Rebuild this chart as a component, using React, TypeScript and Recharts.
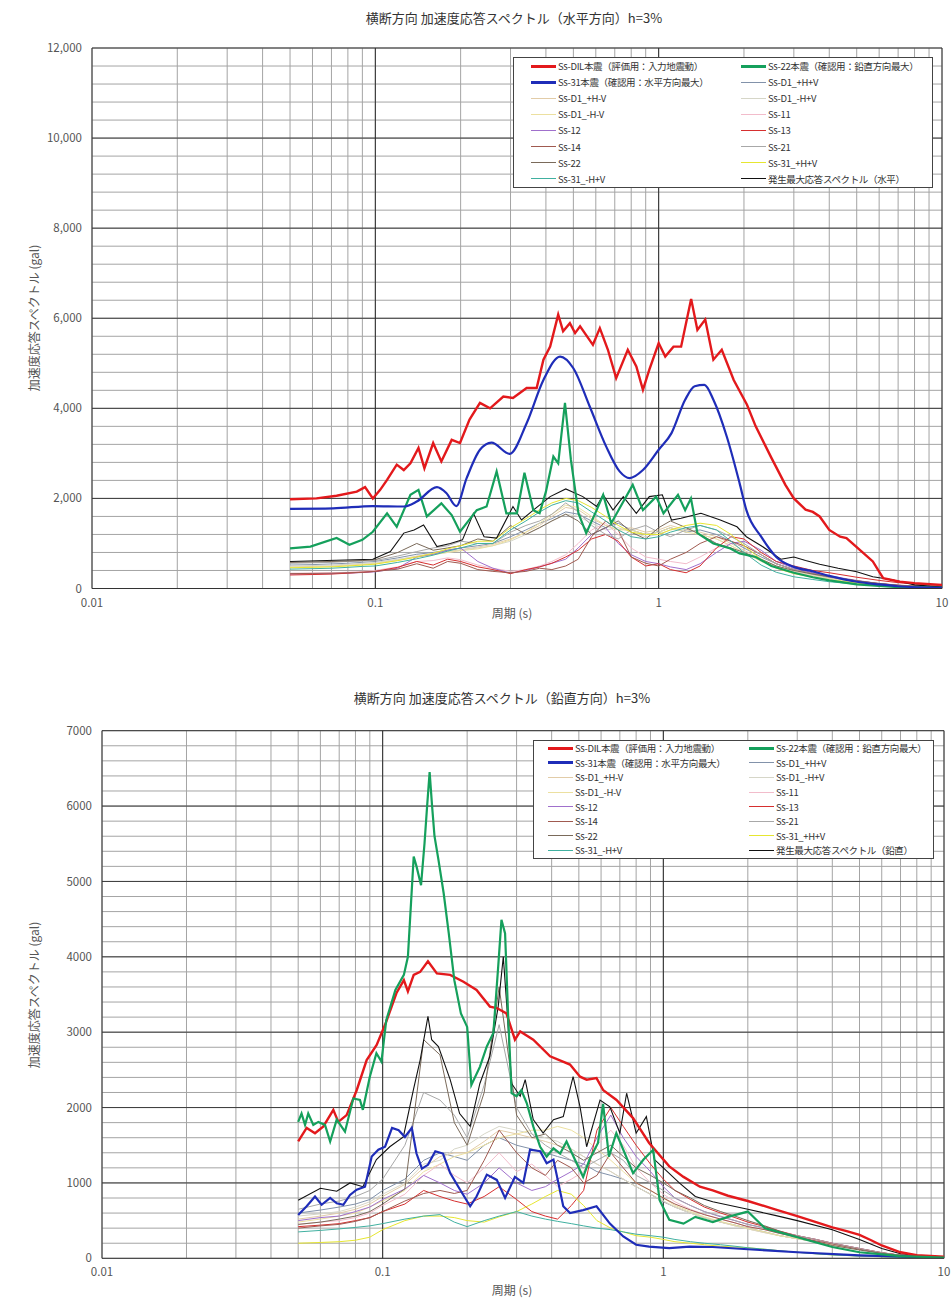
import React from 'react';
import { LineChart, Line, XAxis, YAxis, CartesianGrid, ReferenceLine, Legend } from 'recharts';

const FONT = "'Noto Sans CJK JP', 'Noto Sans', sans-serif";

// log grid of the period axis (s)
const X_TICKS = [
  0.01, 0.02, 0.03, 0.04, 0.05, 0.06, 0.07, 0.08, 0.09,
  0.1, 0.2, 0.3, 0.4, 0.5, 0.6, 0.7, 0.8, 0.9,
  1, 2, 3, 4, 5, 6, 7, 8, 9, 10,
];
const X_LABELS = [0.01, 0.1, 1, 10];
const X_MAJOR = [0.1, 1];

const Y1_TICKS = [
  0, 400, 800, 1200, 1600, 2000, 2400, 2800, 3200, 3600, 4000, 4400, 4800, 5200, 5600, 6000,
  6400, 6800, 7200, 7600, 8000, 8400, 8800, 9200, 9600, 10000, 10400, 10800, 11200, 11600, 12000,
];
const Y1_LABELS = [0, 2000, 4000, 6000, 8000, 10000, 12000];
const Y2_TICKS = [
  0, 200, 400, 600, 800, 1000, 1200, 1400, 1600, 1800, 2000, 2200, 2400, 2600, 2800, 3000,
  3200, 3400, 3600, 3800, 4000, 4200, 4400, 4600, 4800, 5000, 5200, 5400, 5600, 5800, 6000,
  6200, 6400, 6600, 6800, 7000,
];
const Y2_LABELS = [0, 1000, 2000, 3000, 4000, 5000, 6000, 7000];

// coarse period grid used by the thin wave lines
const PERIOD_GRID = [
  0.05, 0.06, 0.07, 0.08, 0.09, 0.1, 0.12, 0.14, 0.16, 0.18, 0.2, 0.23, 0.26, 0.3, 0.34, 0.38,
  0.42, 0.47, 0.52, 0.58, 0.65, 0.72, 0.8, 0.9, 1.0, 1.1, 1.25, 1.4, 1.6, 1.8, 2.0, 2.3, 2.6,
  3.0, 3.5, 4.0, 5.0, 6.0, 7.0, 8.5, 10,
];

// ---------- horizontal (水平方向) ----------
const H_DIL_T = [
  0.05, 0.062, 0.073, 0.086, 0.092, 0.098, 0.104, 0.11, 0.119, 0.126, 0.133, 0.142, 0.149, 0.16,
  0.171, 0.186, 0.199, 0.215, 0.234, 0.254, 0.283, 0.306, 0.342, 0.371, 0.392, 0.414, 0.442, 0.46,
  0.486, 0.507, 0.528, 0.586, 0.62, 0.662, 0.708, 0.778, 0.834, 0.88, 0.927, 1.0, 1.055, 1.128,
  1.2, 1.302, 1.37, 1.46, 1.56, 1.67, 1.84, 2.05, 2.2, 2.5, 2.8, 3.0, 3.3, 3.5, 3.7, 4.0, 4.37,
  4.6, 5.27, 5.7, 6.2, 7.1, 8.0, 10,
];
const H_DIL_V = [
  1980, 2000, 2060, 2150, 2250, 2000, 2190, 2410, 2750, 2630, 2780, 3120, 2670, 3230, 2820, 3300,
  3230, 3750, 4120, 4000, 4260, 4230, 4450, 4450, 5080, 5370, 6080, 5710, 5890, 5670, 5820, 5410,
  5780, 5300, 4670, 5300, 4930, 4410, 4860, 5450, 5150, 5370, 5370, 6430, 5740, 5970, 5080, 5300,
  4630, 4080, 3600, 2900, 2300, 2000, 1750, 1700, 1600, 1300, 1150, 1120, 790, 600, 230, 150,
  120, 80,
];
const H_S22_T = [
  0.05, 0.059, 0.073, 0.081, 0.09, 0.098, 0.11, 0.119, 0.133, 0.142, 0.152, 0.171, 0.186, 0.199,
  0.228, 0.247, 0.268, 0.29, 0.316, 0.336, 0.361, 0.38, 0.4, 0.425, 0.442, 0.467, 0.49, 0.521,
  0.555, 0.604, 0.637, 0.68, 0.728, 0.81, 0.88, 0.98, 1.04, 1.17, 1.24, 1.3, 1.37, 1.56, 1.79,
  1.93, 2.2, 2.5, 3.0, 3.5, 4.0, 5.0, 7.0, 10,
];
const H_S22_V = [
  890, 930, 1120, 970, 1080, 1260, 1670, 1370, 2080, 2190, 1600, 1890, 1630, 1260, 1740, 1820,
  2600, 1670, 1670, 2570, 1740, 1670, 2150, 2930, 2780, 4120, 2860, 1670, 1230, 1740, 2080, 1450,
  1780, 2300, 1740, 2040, 1670, 2080, 1740, 2000, 1230, 1000, 890, 780, 700, 500, 350, 250, 180,
  90, 30, 15,
];
const H_S31_T = [
  0.05, 0.071, 0.098, 0.126, 0.14, 0.165, 0.178, 0.193, 0.21, 0.234, 0.257, 0.298, 0.342, 0.392,
  0.449, 0.5, 0.571, 0.653, 0.728, 0.79, 0.88, 1.0, 1.11, 1.24, 1.34, 1.45, 1.56, 1.74, 1.93,
  2.04, 2.3, 2.6, 3.0, 3.5, 4.0, 5.0, 6.0, 7.0, 10,
];
const H_S31_V = [
  1770, 1780, 1830, 1820, 1930, 2250, 2120, 1830, 2450, 3080, 3240, 2990, 3670, 4630, 5150, 4890,
  4040, 3150, 2600, 2450, 2630, 3080, 3450, 4190, 4490, 4520, 4190, 3370, 2340, 1740, 1150, 700,
  480, 380, 280, 150, 90, 50, 15,
];
const H_MAX_T = [
  0.05, 0.098, 0.113, 0.126, 0.137, 0.148, 0.165, 0.184, 0.203, 0.222, 0.242, 0.268, 0.306, 0.328,
  0.361, 0.414, 0.47, 0.54, 0.604, 0.637, 0.69, 0.75, 0.834, 0.927, 1.03, 1.11, 1.2, 1.41, 1.65,
  1.89, 2.04, 2.3, 2.7, 3.0, 3.3, 3.7, 4.3, 5.0, 5.7, 6.6, 8.0, 10,
];
const H_MAX_V = [
  600, 650, 820, 1230, 1300, 1410, 930, 1000, 1080, 1670, 1150, 1120, 1820, 1520, 1740, 2040,
  2210, 2040, 1820, 2080, 1740, 2040, 1670, 2040, 2080, 1520, 1560, 1670, 1520, 1370, 1150, 950,
  650, 700, 620, 540, 450, 370, 260, 200, 80, 30,
];
const H_D1PP = [520, 530, 545, 560, 580, 600, 680, 760, 800, 850, 900, 950, 1000, 1150, 1300, 1450, 1550, 1700, 1650, 1500, 1350, 1450, 1300, 1200, 1250, 1350, 1250, 1300, 1200, 1050, 900, 700, 550, 420, 320, 250, 160, 100, 70, 45, 30];
const H_D1PM = [480, 490, 500, 520, 540, 560, 640, 720, 780, 820, 860, 920, 980, 1100, 1250, 1400, 1600, 1800, 1750, 1550, 1400, 1300, 1350, 1250, 1300, 1400, 1300, 1250, 1150, 1000, 850, 650, 500, 380, 300, 230, 150, 95, 65, 40, 28];
const H_D1MP = [500, 510, 520, 540, 560, 580, 650, 700, 760, 800, 850, 900, 950, 1050, 1200, 1350, 1500, 1650, 1600, 1450, 1300, 1350, 1250, 1150, 1200, 1300, 1350, 1200, 1100, 950, 800, 620, 480, 360, 280, 220, 140, 90, 60, 40, 25];
const H_D1MM = [470, 480, 490, 510, 530, 550, 620, 700, 750, 800, 840, 880, 950, 1080, 1250, 1450, 1650, 1850, 1800, 1600, 1400, 1300, 1300, 1200, 1250, 1350, 1250, 1200, 1100, 950, 800, 600, 460, 350, 270, 210, 130, 85, 55, 35, 22];
const H_11 = [340, 345, 350, 360, 380, 400, 480, 600, 620, 680, 640, 520, 450, 380, 420, 500, 600, 750, 1000, 1300, 1450, 1200, 900, 700, 650, 600, 550, 700, 900, 1000, 950, 750, 550, 420, 330, 260, 170, 110, 75, 45, 30];
const H_12 = [320, 325, 330, 340, 355, 370, 450, 700, 760, 850, 900, 600, 450, 340, 400, 480, 560, 650, 900, 1200, 1350, 1000, 750, 600, 550, 480, 420, 550, 800, 1000, 1050, 850, 600, 450, 350, 280, 180, 110, 70, 45, 30];
const H_13 = [300, 310, 320, 340, 360, 380, 470, 600, 520, 650, 600, 480, 420, 330, 420, 480, 560, 700, 850, 1100, 1200, 1050, 700, 500, 550, 420, 350, 500, 900, 1150, 1100, 800, 600, 500, 400, 350, 250, 180, 130, 90, 60];
const H_14 = [330, 335, 340, 350, 360, 380, 430, 550, 450, 600, 560, 420, 380, 350, 380, 450, 420, 500, 650, 1150, 1500, 1300, 700, 560, 500, 650, 800, 1000, 1150, 1050, 950, 750, 550, 420, 330, 260, 170, 110, 75, 45, 30];
const H_21 = [560, 570, 580, 600, 610, 620, 720, 820, 900, 950, 1050, 1000, 1000, 1250, 1400, 1500, 1650, 1900, 1700, 1400, 1200, 1100, 1300, 1400, 1250, 1150, 1300, 1400, 1300, 1150, 1000, 750, 550, 420, 320, 250, 160, 100, 65, 40, 25];
const H_22 = [580, 590, 600, 610, 620, 640, 800, 1000, 850, 900, 950, 1100, 1050, 1400, 1200, 1350, 1500, 1650, 1500, 1200, 1350, 1500, 1250, 1100, 1350, 1500, 1350, 1200, 1000, 900, 800, 650, 500, 400, 320, 260, 170, 110, 70, 45, 30];
const H_31P = [460, 470, 480, 500, 520, 540, 620, 700, 780, 880, 950, 1050, 1050, 1350, 1550, 1750, 1900, 2000, 1950, 1800, 1600, 1400, 1250, 1200, 1200, 1300, 1400, 1450, 1400, 1200, 950, 650, 450, 330, 250, 190, 120, 75, 50, 30, 20];
const H_31M = [430, 440, 450, 470, 490, 500, 580, 660, 740, 830, 900, 1000, 1000, 1300, 1500, 1700, 1850, 1950, 1900, 1700, 1500, 1300, 1150, 1100, 1150, 1250, 1350, 1400, 1300, 1050, 800, 520, 360, 260, 200, 150, 95, 60, 40, 25, 15];

// ---------- vertical (鉛直方向) ----------
const V_DIL_T = [
  0.05, 0.0536, 0.0574, 0.0615, 0.0667, 0.0695, 0.0744, 0.0808, 0.0877, 0.0952, 0.103, 0.112,
  0.119, 0.123, 0.129, 0.136, 0.145, 0.156, 0.174, 0.194, 0.216, 0.241, 0.255, 0.276, 0.296, 0.309,
  0.344, 0.395, 0.465, 0.505, 0.533, 0.578, 0.611, 0.681, 0.78, 0.89, 1.05, 1.18, 1.35, 1.5, 1.7,
  2.0, 2.5, 3.0, 3.5, 4.0, 4.5, 5.0, 5.5, 6.0, 7.0, 8.0, 10,
];
const V_DIL_V = [
  1550, 1730, 1660, 1750, 1970, 1810, 1900, 2230, 2630, 2830, 3140, 3520, 3690, 3540, 3760, 3800,
  3940, 3780, 3760, 3670, 3560, 3340, 3320, 3250, 2900, 3010, 2900, 2680, 2570, 2410, 2370, 2390,
  2230, 2100, 1860, 1530, 1220, 1080, 950, 900, 830, 760, 650, 560, 480, 410, 360, 310, 240, 170,
  80, 40, 20,
];
const V_S22_T = [
  0.05, 0.0514, 0.0529, 0.0543, 0.0566, 0.059, 0.0623, 0.065, 0.0686, 0.0734, 0.0786, 0.083, 0.085,
  0.09, 0.095, 0.099, 0.103, 0.111, 0.119, 0.123, 0.129, 0.132, 0.137, 0.141, 0.144, 0.147, 0.15,
  0.153, 0.158, 0.165, 0.172, 0.18, 0.19, 0.2, 0.207, 0.222, 0.235, 0.248, 0.258, 0.265, 0.273,
  0.28, 0.288, 0.3, 0.312, 0.326, 0.344, 0.364, 0.384, 0.406, 0.429, 0.452, 0.484, 0.518, 0.546,
  0.585, 0.61, 0.64, 0.68, 0.72, 0.78, 0.85, 0.92, 0.97, 1.05, 1.18, 1.3, 1.5, 1.7, 2.0, 2.3, 3.0,
  4.0, 5.0, 7.0, 10,
];
const V_S22_V = [
  1810, 1920, 1770, 1920, 1770, 1810, 1770, 1550, 1840, 1680, 2120, 2100, 1970, 2410, 2720, 2610,
  3160, 3560, 3760, 4000, 5330, 5200, 4950, 5510, 6000, 6450, 6000, 5600, 5290, 4840, 4310, 3690,
  3250, 3070, 2300, 2540, 2810, 2990, 3870, 4490, 4310, 3210, 2190, 2150, 2230, 2060, 1750, 1480,
  1350, 1460, 1390, 1550, 1310, 1080, 1310, 1530, 2050, 1350, 1660, 1440, 1130, 1310, 1440, 770,
  510, 460, 550, 480, 550, 620, 400, 280, 150, 80, 30, 10,
];
const V_S31_T = [
  0.05, 0.0536, 0.0574, 0.0606, 0.065, 0.0686, 0.0724, 0.0765, 0.0808, 0.0865, 0.0914, 0.0965,
  0.102, 0.108, 0.114, 0.12, 0.127, 0.132, 0.138, 0.145, 0.154, 0.164, 0.174, 0.186, 0.205, 0.216,
  0.235, 0.255, 0.273, 0.296, 0.317, 0.335, 0.364, 0.384, 0.406, 0.44, 0.465, 0.518, 0.578, 0.645,
  0.72, 0.8, 0.89, 1.05, 1.24, 1.5, 2.0, 3.0, 5.0, 10,
];
const V_S31_V = [
  575, 690, 820, 710, 800, 730, 710, 840, 910, 950, 1350, 1440, 1480, 1730, 1700, 1610, 1730, 1390,
  1190, 1240, 1420, 1390, 1130, 950, 690, 820, 1110, 1040, 800, 1080, 1000, 1440, 1420, 1260, 1310,
  690, 600, 640, 690, 460, 290, 180, 155, 135, 155, 150, 120, 80, 40, 10,
];
const V_MAX_T = [
  0.05, 0.06, 0.0686, 0.0765, 0.085, 0.095, 0.106, 0.1185, 0.1286, 0.136, 0.145, 0.1495, 0.158,
  0.174, 0.188, 0.205, 0.222, 0.241, 0.258, 0.269, 0.277, 0.288, 0.309, 0.322, 0.344, 0.373, 0.406,
  0.44, 0.477, 0.505, 0.533, 0.595, 0.645, 0.7, 0.74, 0.8, 0.87, 0.93, 1.02, 1.14, 1.3, 1.5, 2.0,
  2.5, 3.0, 4.0, 5.0, 6.0, 7.0, 8.5, 10,
];
const V_MAX_V = [
  770, 930, 890, 1000, 950, 1310, 1480, 1610, 2230, 2630, 3210, 2900, 2810, 2370, 1920, 1750, 2320,
  2680, 3340, 4000, 3340, 2320, 2150, 2370, 1840, 1660, 1840, 1880, 2410, 2010, 1480, 2100, 2010,
  1660, 2190, 1660, 1880, 1310, 1170, 1000, 820, 750, 650, 570, 500, 380, 250, 130, 60, 30, 20,
];
const V_D1PP = [600, 640, 680, 720, 780, 900, 1050, 1300, 1400, 1350, 1300, 1500, 1600, 1500, 1450, 1400, 1350, 1300, 1250, 1150, 1100, 1050, 950, 850, 750, 680, 600, 540, 480, 440, 400, 350, 300, 260, 220, 180, 120, 70, 40, 22, 12];
const V_D1PM = [520, 560, 600, 650, 720, 820, 980, 1200, 1350, 1400, 1400, 1550, 1700, 1650, 1600, 1550, 1500, 1450, 1350, 1250, 1150, 1050, 950, 850, 760, 680, 600, 540, 480, 430, 390, 340, 300, 260, 220, 180, 120, 70, 40, 22, 12];
const V_D1MP = [560, 590, 620, 680, 750, 850, 1000, 1250, 1300, 1450, 1500, 1650, 1750, 1700, 1650, 1600, 1550, 1450, 1350, 1250, 1150, 1050, 950, 850, 760, 680, 600, 540, 480, 430, 390, 340, 300, 260, 220, 180, 120, 70, 40, 22, 12];
const V_D1MM = [480, 520, 560, 600, 680, 760, 900, 1150, 1250, 1350, 1400, 1500, 1600, 1650, 1700, 1700, 1750, 1700, 1600, 1450, 1300, 1150, 1000, 900, 800, 700, 620, 550, 490, 440, 400, 350, 300, 260, 220, 180, 120, 70, 40, 22, 12];
const V_11 = [450, 480, 500, 540, 600, 700, 850, 1100, 1250, 1100, 1000, 1200, 1400, 1150, 1250, 1100, 950, 1050, 1150, 1500, 1700, 1500, 1200, 1000, 850, 750, 650, 580, 520, 470, 420, 380, 330, 280, 230, 190, 120, 70, 40, 22, 12];
const V_12 = [500, 540, 560, 620, 680, 780, 920, 1100, 1000, 900, 850, 1000, 1200, 1000, 900, 950, 1050, 1150, 1250, 1600, 1900, 1600, 1350, 1150, 950, 800, 700, 620, 550, 500, 450, 400, 350, 300, 250, 200, 130, 75, 40, 22, 12];
const V_13 = [420, 440, 460, 500, 540, 620, 720, 900, 820, 760, 720, 820, 950, 780, 620, 560, 520, 700, 900, 1700, 2000, 1750, 1500, 1250, 1050, 900, 780, 680, 600, 540, 480, 420, 360, 300, 250, 200, 130, 75, 40, 22, 12];
const V_14 = [400, 430, 450, 490, 540, 620, 760, 860, 900, 860, 900, 1300, 1700, 1400, 1200, 1100, 1300, 1200, 1000, 1100, 1400, 1200, 1000, 900, 800, 720, 640, 580, 520, 470, 420, 380, 330, 280, 230, 190, 120, 70, 40, 22, 12];
const V_21 = [650, 720, 760, 820, 900, 1050, 1500, 2200, 2100, 1900, 1600, 2300, 3100, 2000, 1650, 1500, 1400, 1300, 1200, 1300, 1400, 1300, 1100, 1000, 900, 800, 700, 620, 560, 500, 450, 400, 350, 300, 250, 200, 130, 75, 40, 22, 12];
const V_22 = [450, 480, 520, 560, 620, 720, 920, 2900, 2700, 1800, 1500, 2200, 3600, 1900, 1600, 1650, 1500, 1400, 1300, 1400, 1500, 1350, 1200, 1100, 1000, 900, 800, 700, 620, 560, 500, 430, 360, 290, 220, 170, 110, 65, 40, 22, 12];
const V_31P = [200, 210, 220, 240, 280, 380, 500, 560, 560, 540, 500, 480, 550, 620, 720, 820, 900, 850, 700, 500, 400, 350, 300, 280, 250, 220, 200, 180, 160, 150, 140, 120, 100, 80, 60, 45, 30, 20, 12, 8, 5];
const V_31M = [350, 370, 390, 410, 430, 460, 520, 560, 580, 480, 420, 500, 560, 620, 560, 520, 490, 460, 430, 400, 380, 350, 320, 300, 280, 250, 220, 200, 180, 160, 140, 120, 100, 80, 60, 45, 30, 20, 12, 8, 5];

const C = {
  dil: '#e3191c',
  s22: '#15a05c',
  s31: '#1f2db8',
  d1pp: '#8292aa',
  d1pm: '#e2cca8',
  d1mp: '#d6d6c8',
  d1mm: '#ece0a0',
  s11: '#f2bccb',
  s12: '#a070cc',
  s13: '#d62f2f',
  s14: '#a05a50',
  s21: '#a8a8a8',
  s22t: '#7a6a5a',
  s31p: '#e6e630',
  s31m: '#40b0a0',
  max: '#111111',
};

type Series = { name: string; color: string; width: number; t: number[]; v: number[]; z: number; smooth?: boolean };

const thin = (name: string, color: string, v: number[]): Series => ({ name, color, width: 1, t: PERIOD_GRID, v, z: 0 });

const H_SERIES: Series[] = [
  { name: 'Ss-DIL本震（評価用：入力地震動）', color: C.dil, width: 2.4, t: H_DIL_T, v: H_DIL_V, z: 4 },
  { name: 'Ss-22本震（確認用：鉛直方向最大）', color: C.s22, width: 2.2, t: H_S22_T, v: H_S22_V, z: 2 },
  { name: 'Ss-31本震（確認用：水平方向最大）', color: C.s31, width: 2.2, t: H_S31_T, v: H_S31_V, z: 3, smooth: true },
  thin('Ss-D1_+H+V', C.d1pp, H_D1PP),
  thin('Ss-D1_+H-V', C.d1pm, H_D1PM),
  thin('Ss-D1_-H+V', C.d1mp, H_D1MP),
  thin('Ss-D1_-H-V', C.d1mm, H_D1MM),
  thin('Ss-11', C.s11, H_11),
  thin('Ss-12', C.s12, H_12),
  thin('Ss-13', C.s13, H_13),
  thin('Ss-14', C.s14, H_14),
  thin('Ss-21', C.s21, H_21),
  thin('Ss-22', C.s22t, H_22),
  thin('Ss-31_+H+V', C.s31p, H_31P),
  thin('Ss-31_-H+V', C.s31m, H_31M),
  { name: '発生最大応答スペクトル（水平）', color: C.max, width: 1.1, t: H_MAX_T, v: H_MAX_V, z: 1 },
];

const V_SERIES: Series[] = [
  { name: 'Ss-DIL本震（評価用：入力地震動）', color: C.dil, width: 2.4, t: V_DIL_T, v: V_DIL_V, z: 3 },
  { name: 'Ss-22本震（確認用：鉛直方向最大）', color: C.s22, width: 2.2, t: V_S22_T, v: V_S22_V, z: 4 },
  { name: 'Ss-31本震（確認用：水平方向最大）', color: C.s31, width: 2.2, t: V_S31_T, v: V_S31_V, z: 2 },
  thin('Ss-D1_+H+V', C.d1pp, V_D1PP),
  thin('Ss-D1_+H-V', C.d1pm, V_D1PM),
  thin('Ss-D1_-H+V', C.d1mp, V_D1MP),
  thin('Ss-D1_-H-V', C.d1mm, V_D1MM),
  thin('Ss-11', C.s11, V_11),
  thin('Ss-12', C.s12, V_12),
  thin('Ss-13', C.s13, V_13),
  thin('Ss-14', C.s14, V_14),
  thin('Ss-21', C.s21, V_21),
  thin('Ss-22', C.s22t, V_22),
  thin('Ss-31_+H+V', C.s31p, V_31P),
  thin('Ss-31_-H+V', C.s31m, V_31M),
  { name: '発生最大応答スペクトル（鉛直）', color: C.max, width: 1.1, t: V_MAX_T, v: V_MAX_V, z: 1 },
];

type PanelCfg = {
  top: number;
  height: number;
  margin: { top: number; right: number; bottom: number; left: number };
  yAxisWidth: number;
  yMax: number;
  yTicks: number[];
  yLabels: number[];
  comma: boolean;
  title: string;
  titleX: number;
  titleY: number;
  yLabelY: number;
  xLabelY: number;
  legend: { left: number; top: number; width: number; pad: number; col: number; rowH: number };
  series: Series[];
};

const PANELS: PanelCfg[] = [
  {
    top: 0,
    height: 640,
    margin: { top: 48, right: 9, bottom: 21.5, left: 2 },
    yAxisWidth: 90,
    yMax: 12000,
    yTicks: Y1_TICKS,
    yLabels: Y1_LABELS,
    comma: true,
    title: '横断方向 加速度応答スペクトル（水平方向）h=3%',
    titleX: 514,
    titleY: 17,
    yLabelY: 318,
    xLabelY: 612,
    legend: { left: 513, top: 57, width: 420, pad: 17, col: 210, rowH: 16.1 },
    series: H_SERIES,
  },
  {
    top: 650,
    height: 648,
    margin: { top: 80.7, right: 7, bottom: 9.7, left: 2 },
    yAxisWidth: 100,
    yMax: 7000,
    yTicks: Y2_TICKS,
    yLabels: Y2_LABELS,
    comma: false,
    title: '横断方向 加速度応答スペクトル（鉛直方向）h=3%',
    titleX: 502,
    titleY: 47,
    yLabelY: 345,
    xLabelY: 639,
    legend: { left: 533, top: 90, width: 401, pad: 14, col: 201, rowH: 14.6 },
    series: V_SERIES,
  },
];

const toPoints = (t: number[], v: number[]) => t.map((x, i) => ({ t: x, v: v[i] }));

function SpectrumPanel({ cfg }: { cfg: PanelCfg }) {
  const order = cfg.series.map((s) => s.name);
  const drawOrder = [...cfg.series].sort((a, b) => a.z - b.z);
  const lg = cfg.legend;

  const renderLegend = (props: any) => {
    const items = [...(props.payload ?? [])].sort(
      (a: any, b: any) => order.indexOf(a.value) - order.indexOf(b.value)
    );
    return (
      <div
        style={{
          border: '1px solid #444',
          background: '#fff',
          display: 'grid',
          gridTemplateColumns: `${lg.col}px 1fr`,
          paddingLeft: lg.pad,
          boxSizing: 'border-box',
          width: lg.width,
        }}
      >
        {items.map((it: any) => {
          const s = cfg.series.find((x) => x.name === it.value);
          const w = s && s.width > 2 ? 3 : 1;
          return (
            <div key={it.value} style={{ display: 'flex', alignItems: 'center', height: lg.rowH }}>
              <span style={{ width: 25, height: 0, borderTop: `${w}px solid ${it.color}`, marginRight: 2, flex: 'none' }} />
              <span style={{ fontSize: 9.5, letterSpacing: -0.35, color: '#333', whiteSpace: 'nowrap', fontFamily: FONT }}>
                {it.value}
              </span>
            </div>
          );
        })}
      </div>
    );
  };

  return (
    <div style={{ position: 'absolute', left: 0, top: cfg.top, width: 951, height: cfg.height }}>
      <LineChart width={951} height={cfg.height} margin={cfg.margin}>
        <CartesianGrid stroke="#a4a4a4" strokeWidth={1} />
        <XAxis
          type="number"
          dataKey="t"
          scale="log"
          domain={[0.01, 10]}
          allowDataOverflow
          ticks={X_TICKS}
          interval={0}
          height={30}
          tickLine={false}
          tickSize={0}
          tickMargin={10}
          axisLine={{ stroke: '#333' }}
          tick={{ fontSize: 11.5, fill: '#555', fontFamily: FONT }}
          tickFormatter={(v: number) => (X_LABELS.includes(v) ? String(v) : '')}
        />
        <YAxis
          type="number"
          domain={[0, cfg.yMax]}
          allowDataOverflow
          ticks={cfg.yTicks}
          interval={0}
          width={cfg.yAxisWidth}
          tickLine={false}
          tickSize={0}
          tickMargin={10}
          axisLine={{ stroke: '#333' }}
          tick={{ fontSize: 11.5, fill: '#555', fontFamily: FONT }}
          tickFormatter={(v: number) =>
            cfg.yLabels.includes(v) ? (cfg.comma ? v.toLocaleString('en-US') : String(v)) : ''
          }
        />
        {cfg.yLabels.slice(1, -1).map((y) => (
          <ReferenceLine key={'y' + y} y={y} stroke="#3c3c3c" strokeWidth={1} />
        ))}
        {X_MAJOR.map((x) => (
          <ReferenceLine key={'x' + x} x={x} stroke="#2c2c2c" strokeWidth={1} />
        ))}
        <ReferenceLine y={cfg.yMax} stroke="#333" strokeWidth={1} />
        <ReferenceLine x={10} stroke="#333" strokeWidth={1} />
        {drawOrder.map((s) => (
          <Line
            key={s.name}
            data={toPoints(s.t, s.v)}
            dataKey="v"
            name={s.name}
            type={s.smooth ? 'monotone' : 'linear'}
            stroke={s.color}
            strokeWidth={s.width}
            dot={false}
            activeDot={false}
            isAnimationActive={false}
          />
        ))}
        <Legend
          content={renderLegend}
          layout="horizontal"
          verticalAlign="middle"
          align="center"
          wrapperStyle={{ left: lg.left, top: lg.top, width: lg.width }}
        />
      </LineChart>
      <div
        style={{
          position: 'absolute',
          left: cfg.titleX,
          top: cfg.titleY,
          transform: 'translate(-50%, -50%)',
          fontSize: 13,
          color: '#333',
          whiteSpace: 'nowrap',
          fontFamily: FONT,
        }}
      >
        {cfg.title}
      </div>
      <div
        style={{
          position: 'absolute',
          left: 33,
          top: cfg.yLabelY,
          transform: 'translate(-50%, -50%) rotate(-90deg)',
          fontSize: 12,
          color: '#555',
          whiteSpace: 'nowrap',
          fontFamily: FONT,
        }}
      >
        加速度応答スペクトル (gal)
      </div>
      <div
        style={{
          position: 'absolute',
          left: 512,
          top: cfg.xLabelY,
          transform: 'translate(-50%, -50%)',
          fontSize: 12,
          color: '#555',
          whiteSpace: 'nowrap',
          fontFamily: FONT,
        }}
      >
        周期 (s)
      </div>
    </div>
  );
}

export default function App() {
  return (
    <div style={{ position: 'absolute', left: 0, top: 0, width: 951, height: 1298, background: '#fff' }}>
      {PANELS.map((p) => (
        <SpectrumPanel key={p.title} cfg={p} />
      ))}
    </div>
  );
}
